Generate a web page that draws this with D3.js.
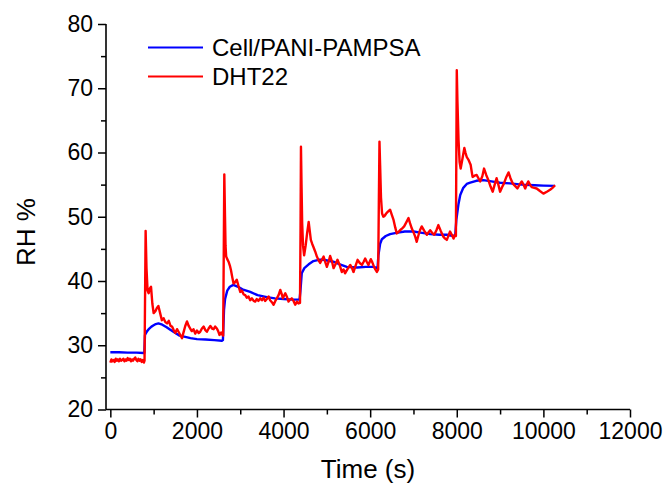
<!DOCTYPE html>
<html>
<head>
<meta charset="utf-8">
<script src="https://cdn.jsdelivr.net/npm/d3@7"></script>
<style>
html,body{margin:0;padding:0;background:#fff;}
svg{display:block;}
text{font-family:Arial,"Liberation Sans",sans-serif;fill:#000;}
</style>
</head>
<body>
<svg id="chart" width="666" height="489"></svg>
<script>
const seriesNames = ["Cell/PANI-PAMPSA", "DHT22"];
const seriesColors = ["#0000ff", "#ff0000"];
const xTicks = [0, 2000, 4000, 6000, 8000, 10000, 12000];
const yTicks = [20, 30, 40, 50, 60, 70, 80];
const xLabel = "Time (s)";
const yLabel = "RH %";

const timeBlue = [0,200,400,600,770,785,800,850,900,950,1000,1050,1110,1200,1300,1385,1500,1600,1730,1850,2000,2200,2400,2577,2600,2625,2650,2700,2760,2840,2950,3050,3230,3400,3615,3800,4000,4200,4370,4390,4420,4480,4580,4690,4810,4920,5150,5300,5460,5700,5900,6075,6170,6190,6230,6270,6360,6460,6600,6800,7000,7200,7385,7600,7770,7920,7965,7990,8040,8080,8150,8230,8310,8450,8615,8800,9000,9230,9500,9800,10000,10270];
const rhBlue = [28.9,28.9,28.85,28.85,28.8,28.8,31.6,32.2,32.6,32.9,33.1,33.3,33.4,33.2,32.8,32.4,31.9,31.5,31.3,31.1,30.95,30.9,30.8,30.7,30.8,35.5,37.2,38.5,39.1,39.4,39.1,38.7,38.3,37.8,37.5,37.3,37.2,37.1,37.1,38.5,41.2,42.0,42.6,43.1,43.3,43.3,43.0,42.6,42.2,42.1,42.2,42.2,42.0,44.0,45.8,46.5,47.0,47.3,47.5,47.7,47.7,47.5,47.3,47.2,47.2,47.0,47.2,49.5,52.0,53.4,54.5,55.1,55.3,55.6,55.7,55.5,55.3,55.2,55.0,54.9,54.85,54.8];

const timeRed = [0,25,50,75,100,125,150,175,200,225,250,275,300,325,350,375,400,425,450,475,500,525,550,575,600,625,650,675,700,725,750,775,790,800,815,835,860,885,910,940,970,1000,1040,1075,1110,1150,1190,1230,1270,1310,1350,1390,1425,1460,1500,1540,1575,1615,1655,1690,1730,1770,1810,1845,1880,1920,1960,2000,2040,2075,2115,2155,2190,2230,2270,2310,2350,2385,2420,2460,2490,2520,2560,2590,2605,2620,2632,2648,2660,2675,2700,2730,2760,2785,2815,2845,2880,2920,2960,3000,3040,3080,3115,3150,3190,3230,3270,3310,3345,3380,3420,3460,3500,3540,3575,3615,3655,3690,3730,3770,3810,3845,3885,3925,3960,3985,4010,4040,4080,4115,4150,4190,4230,4270,4310,4345,4380,4392,4402,4415,4430,4450,4475,4510,4545,4580,4605,4630,4660,4690,4730,4770,4810,4845,4885,4925,4960,5000,5040,5075,5115,5155,5200,5245,5295,5345,5385,5420,5480,5540,5580,5615,5660,5710,5760,5810,5850,5885,5920,5960,5990,6015,6050,6090,6120,6155,6185,6200,6215,6230,6250,6275,6305,6340,6370,6410,6460,6500,6540,6580,6615,6650,6690,6740,6785,6840,6885,6920,6960,7000,7040,7075,7110,7150,7190,7250,7310,7350,7385,7430,7480,7530,7575,7630,7690,7730,7770,7810,7845,7885,7925,7960,7980,7990,8000,8015,8040,8065,8090,8130,8175,8200,8230,8275,8320,8345,8365,8410,8460,8500,8540,8590,8630,8680,8730,8780,8830,8875,8920,8960,9000,9045,9090,9145,9195,9240,9290,9345,9400,9450,9500,9540,9580,9615,9650,9690,9730,9790,9845,9920,10000,10080,10155,10210,10270];
const rhRed = [27.3,27.8,27.5,27.7,27.4,27.9,27.6,27.8,27.5,27.9,27.6,27.7,27.9,27.5,27.8,27.6,28.0,27.7,27.9,27.5,27.8,27.6,27.9,28.1,27.7,27.5,27.9,27.6,27.8,27.4,27.7,27.3,27.6,36.0,47.8,42.0,38.5,38.1,38.8,39.1,36.5,35.0,35.3,35.8,36.1,35.0,33.9,34.2,33.6,33.4,33.8,33.0,32.9,32.4,31.9,32.5,32.1,31.6,31.1,32.0,33.0,33.7,33.0,32.6,32.2,32.5,31.8,32.3,31.9,32.1,32.6,32.9,32.4,32.1,32.6,33.0,32.6,32.5,32.9,32.6,32.2,31.6,32.0,31.6,31.5,45.0,56.6,50.0,45.5,43.8,43.4,43.0,42.4,41.7,40.6,39.6,39.8,40.2,39.2,38.3,38.5,37.9,37.8,37.4,37.6,37.0,37.3,36.9,36.8,37.2,36.9,37.3,37.0,37.4,36.9,37.2,37.6,37.0,36.7,36.3,36.9,37.3,37.8,38.6,37.9,37.3,37.7,38.1,37.5,36.8,37.1,37.3,36.9,36.3,36.8,36.5,36.6,48.0,60.9,55.0,49.0,45.5,44.0,45.5,47.5,49.2,47.8,46.4,45.8,45.3,44.6,43.8,43.2,42.8,43.3,43.8,43.0,42.2,43.0,43.9,43.1,42.0,42.6,43.3,42.5,41.4,41.8,41.2,41.9,42.5,42.0,41.4,42.3,43.3,42.8,42.5,43.0,43.5,43.0,42.5,43.0,43.4,42.9,42.2,41.8,41.4,41.8,52.0,61.7,58.0,53.0,50.5,50.0,50.2,50.5,50.8,51.1,50.3,49.5,48.3,47.4,47.6,47.9,48.2,48.5,49.2,49.8,49.0,48.2,47.6,46.9,46.1,47.0,47.9,48.5,47.8,47.2,47.6,47.9,47.5,47.2,47.9,48.7,47.8,46.9,46.6,46.4,47.1,47.7,47.2,46.6,47.2,47.0,60.0,72.8,68.0,62.0,58.5,57.5,59.0,60.7,60.0,59.3,58.8,58.1,57.0,56.2,56.4,56.5,56.0,55.5,56.3,57.5,56.5,55.7,54.7,53.9,55.0,56.0,55.0,53.9,54.6,55.2,56.2,56.9,56.0,55.2,54.8,54.4,55.0,55.5,55.0,54.4,55.0,55.5,55.0,54.6,54.5,54.4,54.0,53.6,53.9,54.2,54.5,54.9];

const svg = d3.select("#chart");
const x = d3.scaleLinear().domain([-100, 12000]).range([106, 630]);
const y = d3.scaleLinear().domain([20, 80]).range([409.5, 24]);

const xMinor = d3.range(1000, 12000, 2000);
const yMinor = d3.range(25, 80, 10);
const fontFam = "Arial, 'Liberation Sans', sans-serif";

// X axis
const gx = svg.append("g").attr("transform", "translate(0,409.5)");
gx.call(d3.axisBottom(x).tickValues(xTicks).tickSize(8).tickPadding(5).tickFormat(d3.format("d")));
gx.append("g").call(d3.axisBottom(x).tickValues(xMinor).tickSize(5).tickFormat(""));
gx.selectAll("g g .domain").remove();
gx.select("path.domain").attr("d", "M106,0H630").attr("stroke", "#000").attr("stroke-width", 1.6);
gx.selectAll("line").attr("stroke", "#000").attr("stroke-width", 1.5);
gx.selectAll("text").attr("font-size", 23).attr("font-family", fontFam).attr("fill", "#000");

// Y axis
const gy = svg.append("g").attr("transform", "translate(106,0)");
gy.call(d3.axisLeft(y).tickValues(yTicks).tickSize(8).tickPadding(5).tickFormat(d3.format("d")));
gy.append("g").call(d3.axisLeft(y).tickValues(yMinor).tickSize(5).tickFormat(""));
gy.selectAll("g g .domain").remove();
gy.select("path.domain").attr("d", "M0,24V409.5").attr("stroke", "#000").attr("stroke-width", 1.6);
gy.selectAll("line").attr("stroke", "#000").attr("stroke-width", 1.5);
gy.selectAll("text").attr("font-size", 23).attr("font-family", fontFam).attr("fill", "#000");

// Lines
const blueData = timeBlue.map((t,i)=>[t, rhBlue[i]]);
const redData = timeRed.map((t,i)=>[t, rhRed[i]]);
const line = d3.line().x(d=>x(d[0])).y(d=>y(d[1]));
svg.append("path").datum(blueData).attr("d", line).attr("fill", "none")
  .attr("stroke", seriesColors[0]).attr("stroke-width", 2.4).attr("stroke-linejoin", "round");
svg.append("path").datum(redData).attr("d", line).attr("fill", "none")
  .attr("stroke", seriesColors[1]).attr("stroke-width", 2.4).attr("stroke-linejoin", "round");

// Legend
const legend = svg.append("g");
seriesNames.forEach((name, i) => {
  const ly = 47.5 + i * 29;
  legend.append("line").attr("x1", 148).attr("x2", 203).attr("y1", ly).attr("y2", ly)
    .attr("stroke", seriesColors[i]).attr("stroke-width", 2);
  legend.append("text").attr("x", 212).attr("y", ly).attr("dy", "0.35em")
    .attr("font-size", 24).text(name);
});

// Axis titles
svg.append("text").attr("x", 368).attr("y", 478).attr("text-anchor", "middle")
  .attr("font-size", 26).text(xLabel);
svg.append("text").attr("transform", "translate(35,232) rotate(-90)").attr("text-anchor", "middle")
  .attr("font-size", 26).text(yLabel);
</script>
</body>
</html>
